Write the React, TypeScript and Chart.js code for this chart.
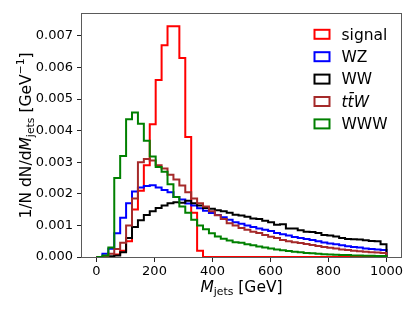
import React, { useEffect, useRef } from 'react';
import { Chart, registerables } from 'chart.js';

Chart.register(...registerables);

// ---- data ----
const BIN_MIN = 0;
const BIN_MAX = 1000;
const N_BINS = 49;
const X_TICKS = [0, 200, 400, 600, 800, 1000];
const Y_TICKS = [0, 0.001, 0.002, 0.003, 0.004, 0.005, 0.006, 0.007];
const SERIES_LABELS = ['signal', 'WZ', 'WW', 'tt\u0304W', 'WWW'];
const SERIES_ITALIC = [false, false, false, true, false];
const SERIES_COLORS = ['#ff0000', '#0000ff', '#000000', '#a52a2a', '#008000'];

const signal = [
  0, 0, 0, 0.00008, 0.0002, 0.0005, 0.0015, 0.0021, 0.0029, 0.0042,
  0.0056, 0.0067, 0.0073, 0.0073, 0.0063, 0.0038, 0.0014, 0.0002, 0, 0,
  0, 0, 0, 0, 0, 0, 0, 0, 0, 0,
  0, 0, 0, 0, 0, 0, 0, 0, 0, 0,
  0, 0, 0, 0, 0, 0, 0, 0, 0,
];
const wz = [
  0, 0.0001, 0.00026, 0.00075, 0.00124, 0.0017, 0.00207, 0.0022, 0.00225, 0.00227,
  0.0022, 0.00212, 0.00205, 0.0019, 0.00182, 0.00169, 0.00163, 0.00154, 0.00146, 0.00139,
  0.00133, 0.00126, 0.00118, 0.0011, 0.00105, 0.001, 0.00095, 0.0009, 0.00086, 0.00082,
  0.00076, 0.00072, 0.00068, 0.00063, 0.0006, 0.00057, 0.00054, 0.0005, 0.00046, 0.00043,
  0.0004, 0.00037, 0.00034, 0.00032, 0.0003, 0.00027, 0.00025, 0.00024, 0.00022,
];
const ww = [
  0, 0, 0.00002, 0.00005, 0.00015, 0.0006, 0.00095, 0.00116, 0.00133, 0.00145,
  0.00155, 0.00163, 0.0017, 0.00173, 0.00172, 0.00178, 0.0017, 0.00163, 0.00155, 0.00153,
  0.00148, 0.00145, 0.0014, 0.00134, 0.00131, 0.00127, 0.00122, 0.0012, 0.00115, 0.0011,
  0.00102, 0.00104, 0.0009, 0.0009, 0.00085, 0.0008, 0.00079, 0.00076, 0.0007, 0.00068,
  0.00065, 0.0006, 0.00057, 0.00056, 0.00055, 0.00053, 0.00051, 0.0005, 0.0004,
];
const ttw = [
  0, 0, 0.0001, 0.00025, 0.00045, 0.001, 0.00185, 0.003, 0.0031, 0.00305,
  0.0029, 0.0028, 0.0026, 0.00245, 0.00226, 0.00205, 0.00185, 0.0017, 0.0016, 0.00145,
  0.00132, 0.0012, 0.00107, 0.001, 0.00092, 0.00086, 0.0008, 0.00076, 0.0007, 0.00064,
  0.0006, 0.00054, 0.0005, 0.00047, 0.00044, 0.00041, 0.00038, 0.00035, 0.00032, 0.00029,
  0.00027, 0.00024, 0.00022, 0.0002, 0.00018, 0.00017, 0.00015, 0.00014, 0.00013,
];
const www = [
  0, 0.00005, 0.0003, 0.0025, 0.0032, 0.00436, 0.00457, 0.00422, 0.00368, 0.00318,
  0.00285, 0.0027, 0.0023, 0.0019, 0.0016, 0.0014, 0.00118, 0.001, 0.00088, 0.00075,
  0.00065, 0.00058, 0.00052, 0.00047, 0.00045, 0.0004, 0.00037, 0.00033, 0.0003, 0.00027,
  0.00024, 0.00021, 0.00019, 0.00017, 0.00015, 0.00013, 0.00012, 0.0001, 0.00009, 0.00008,
  0.00007, 0.00006, 0.00006, 0.00005, 0.00005, 0.00004, 0.00004, 0.00003, 0.00003,
];
const SERIES = [signal, wz, ww, ttw, www];

// ---- helpers ----
const FONT = '"DejaVu Sans"';
const edges = Array.from({ length: N_BINS + 1 }, (_, k) => BIN_MIN + (k * (BIN_MAX - BIN_MIN)) / N_BINS);

function stepOutline(vals: number[]) {
  const pts: { x: number; y: number }[] = [{ x: edges[0], y: 0 }];
  vals.forEach((v, k) => {
    pts.push({ x: edges[k], y: v });
    pts.push({ x: edges[k + 1], y: v });
  });
  pts.push({ x: edges[vals.length], y: 0 });
  return pts;
}

type Seg = { t: string; italic?: boolean; scale?: number; dy?: number };

function drawRich(ctx: CanvasRenderingContext2D, segs: Seg[], size: number, x: number, y: number, align: 'center' | 'left') {
  const fontOf = (s: Seg) => `${s.italic ? 'italic ' : ''}${(size * (s.scale || 1)).toFixed(2)}px ${FONT}`;
  const widths = segs.map((s) => {
    ctx.font = fontOf(s);
    return ctx.measureText(s.t).width;
  });
  const total = widths.reduce((a, b) => a + b, 0);
  let cx = align === 'center' ? x - total / 2 : x;
  ctx.textAlign = 'left';
  ctx.textBaseline = 'alphabetic';
  segs.forEach((s, i) => {
    ctx.font = fontOf(s);
    ctx.fillText(s.t, cx, y + (s.dy || 0) * size);
    cx += widths[i];
  });
}

const decorPlugin = {
  id: 'decor',
  afterDraw(chart: any) {
    const ctx: CanvasRenderingContext2D = chart.ctx;
    const { left, right, top, bottom } = chart.chartArea;
    ctx.save();
    // frame
    ctx.strokeStyle = '#5a5a5a';
    ctx.lineWidth = 1;
    ctx.strokeRect(Math.round(left) - 0.5, Math.round(top) - 0.5, Math.round(right - left) + 1, Math.round(bottom - top) + 1);

    ctx.fillStyle = '#000';
    // x title
    drawRich(
      ctx,
      [
        { t: 'M', italic: true },
        { t: 'jets', scale: 0.7, dy: 0.22 },
        { t: ' [GeV]' },
      ],
      15.5,
      (left + right) / 2,
      292,
      'center'
    );
    // y title
    ctx.save();
    ctx.translate(31, (top + bottom) / 2);
    ctx.rotate(-Math.PI / 2);
    drawRich(
      ctx,
      [
        { t: '1/N dN/d' },
        { t: 'M', italic: true },
        { t: 'jets', scale: 0.7, dy: 0.22 },
        { t: ' [GeV' },
        { t: '\u22121', scale: 0.7, dy: -0.42 },
        { t: ']' },
      ],
      15.5,
      0,
      0,
      'center'
    );
    ctx.restore();

    // legend
    const rowY0 = 34.3;
    const rowDY = 22.4;
    SERIES_LABELS.forEach((lab, i) => {
      const cy = rowY0 + i * rowDY;
      ctx.strokeStyle = SERIES_COLORS[i];
      ctx.lineWidth = 2;
      ctx.strokeRect(314.5, cy - 4.5, 15, 9);
      ctx.fillStyle = '#000';
      drawRich(ctx, [{ t: lab, italic: SERIES_ITALIC[i] }], 15.5, 341.5, cy + 5.2, 'left');
    });
    ctx.restore();
  },
};

export default function App() {
  const ref = useRef<HTMLCanvasElement | null>(null);
  useEffect(() => {
    document.body.style.margin = '0';
    if (!ref.current) return;
    const datasets = SERIES.map((vals, i) => ({
      label: SERIES_LABELS[i],
      data: stepOutline(vals),
      borderColor: SERIES_COLORS[i],
      backgroundColor: SERIES_COLORS[i],
      borderWidth: 2,
      pointRadius: 0,
      fill: false,
      tension: 0,
      order: SERIES.length - i,
    }));
    const chart = new Chart(ref.current, {
      type: 'line',
      data: { datasets },
      options: {
        responsive: false,
        animation: false,
        events: [],
        layout: { padding: { left: 0, top: 14, right: 14, bottom: 0 } },
        plugins: { legend: { display: false }, tooltip: { enabled: false }, title: { display: false } },
        scales: {
          x: {
            type: 'linear',
            min: -50,
            max: 1050,
            afterBuildTicks: (s: any) => {
              s.ticks = X_TICKS.map((v) => ({ value: v }));
            },
            afterFit: (s: any) => {
              s.height = 55;
            },
            grid: { display: true, drawOnChartArea: false, drawTicks: true, tickLength: 5, color: '#222', lineWidth: 1 },
            border: { display: false },
            ticks: {
              font: { size: 13, family: FONT },
              color: '#000',
              padding: 2,
              maxRotation: 0,
              autoSkip: false,
              callback: (v: any) => String(v),
            },
          },
          y: {
            type: 'linear',
            min: 0,
            max: 0.00769,
            afterBuildTicks: (s: any) => {
              s.ticks = Y_TICKS.map((v) => ({ value: v }));
            },
            afterFit: (s: any) => {
              s.width = 82;
            },
            grid: { display: true, drawOnChartArea: false, drawTicks: true, tickLength: 5, color: '#222', lineWidth: 1 },
            border: { display: false },
            ticks: {
              font: { size: 13, family: FONT },
              color: '#000',
              padding: 4,
              autoSkip: false,
              callback: (v: any) => Number(v).toFixed(3),
            },
          },
        },
      },
      plugins: [decorPlugin],
    });
    return () => chart.destroy();
  }, []);
  return (
    <div style={{ width: 415, height: 312 }}>
      <canvas ref={ref} width={415} height={312} style={{ display: 'block' }} />
    </div>
  );
}
